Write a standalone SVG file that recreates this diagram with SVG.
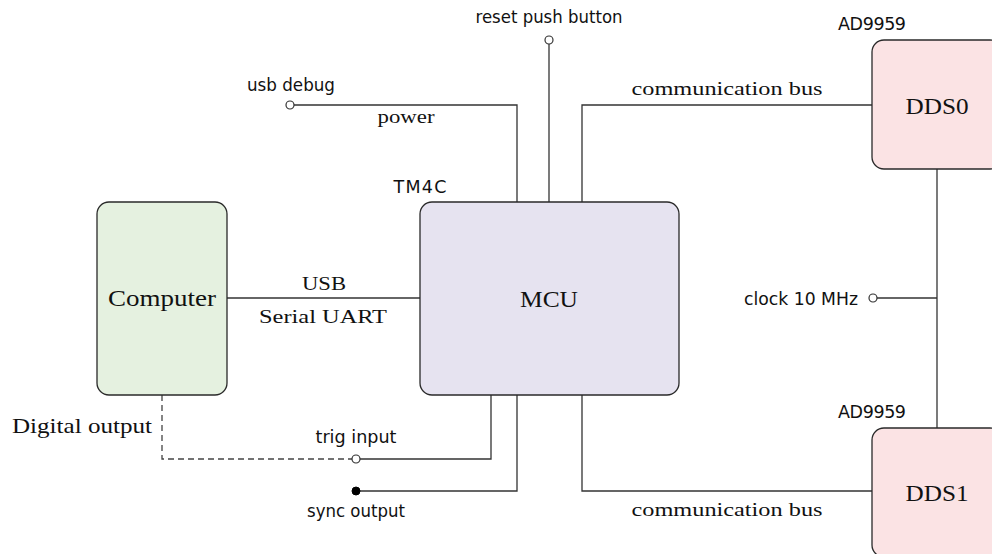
<svg xmlns="http://www.w3.org/2000/svg" width="992" height="554" viewBox="0 0 992 554">
<style>
.box{stroke:#2a2a2a;stroke-width:1.3}
.w{fill:none;stroke:#333;stroke-width:1.3}
.dash{fill:none;stroke:#444;stroke-width:1.3;stroke-dasharray:6 4}
.oc{fill:#fff;stroke:#333;stroke-width:1.2}
.fc{fill:#000;stroke:#000;stroke-width:1}
.s{font-family:"DejaVu Sans",sans-serif;font-size:17.5px;fill:#111}
.r{font-family:"Liberation Serif",serif;font-size:19.5px;fill:#111}
.R{font-family:"Liberation Serif",serif;font-size:24px;fill:#111}
</style>
<rect width="992" height="554" fill="#fff"/>
<g id="connectors">
  <polyline class="w" points="294,105 517,105 517,202"/>
  <line class="w" x1="549" y1="44" x2="549" y2="202"/>
  <polyline class="w" points="582,202 582,105 872,105"/>
  <line class="w" x1="227" y1="298" x2="420" y2="298"/>
  <line class="w" x1="937" y1="169" x2="937" y2="428"/>
  <line class="w" x1="877" y1="298" x2="937" y2="298"/>
  <polyline class="w" points="491,395 491,459 360,459"/>
  <polyline class="w" points="517,395 517,491 356,491"/>
  <polyline class="w" points="582,395 582,491 872,491"/>
  <polyline class="dash" points="162,395 162,459 352,459"/>
  <circle class="oc" cx="290" cy="105" r="4"/>
  <circle class="oc" cx="549" cy="40" r="4"/>
  <circle class="oc" cx="873" cy="298" r="4"/>
  <circle class="oc" cx="356" cy="459" r="4"/>
  <circle class="fc" cx="356" cy="491" r="4"/>
  <text class="s" x="549" y="23" text-anchor="middle" textLength="147" lengthAdjust="spacingAndGlyphs">reset push button</text>
  <text class="s" x="291" y="91" text-anchor="middle" textLength="88" lengthAdjust="spacingAndGlyphs">usb debug</text>
  <text class="r" x="406" y="123" text-anchor="middle" textLength="57" lengthAdjust="spacingAndGlyphs">power</text>
  <text class="r" x="727" y="95" text-anchor="middle" textLength="191" lengthAdjust="spacingAndGlyphs">communication bus</text>
  <text class="r" x="727" y="516" text-anchor="middle" textLength="191" lengthAdjust="spacingAndGlyphs">communication bus</text>
  <text class="r" x="324" y="290" text-anchor="middle" textLength="44" lengthAdjust="spacingAndGlyphs">USB</text>
  <text class="r" x="323" y="323" text-anchor="middle" textLength="128" lengthAdjust="spacingAndGlyphs">Serial UART</text>
  <text class="s" x="858" y="305" text-anchor="end" textLength="114" lengthAdjust="spacingAndGlyphs">clock 10 MHz</text>
  <text class="r" x="152" y="433" text-anchor="end" textLength="140" lengthAdjust="spacingAndGlyphs" style="font-size:21px">Digital output</text>
  <text class="s" x="356" y="443" text-anchor="middle" textLength="81" lengthAdjust="spacingAndGlyphs">trig input</text>
  <text class="s" x="356" y="517" text-anchor="middle" textLength="98" lengthAdjust="spacingAndGlyphs">sync output</text>
</g>
<g id="computer">
  <rect class="box" x="97" y="202" width="130" height="193" rx="12" fill="#e5f1e0"/>
  <text class="R" x="162" y="306" text-anchor="middle" textLength="108" lengthAdjust="spacingAndGlyphs">Computer</text>
</g>
<g id="mcu">
  <rect class="box" x="420" y="202" width="259" height="193" rx="12" fill="#e6e3f0"/>
  <text class="R" x="549" y="307" text-anchor="middle" textLength="58" lengthAdjust="spacingAndGlyphs">MCU</text>
  <text class="s" x="420" y="193" text-anchor="middle" textLength="53">TM4C</text>
</g>
<g id="dds0">
  <rect class="box" x="872" y="40" width="130" height="129" rx="12" fill="#fbe3e4"/>
  <text class="R" x="937" y="114" text-anchor="middle" textLength="63" lengthAdjust="spacingAndGlyphs">DDS0</text>
  <text class="s" x="872" y="30" text-anchor="middle" textLength="68">AD9959</text>
</g>
<g id="dds1">
  <rect class="box" x="872" y="428" width="130" height="129" rx="12" fill="#fbe3e4"/>
  <text class="R" x="937" y="501" text-anchor="middle" textLength="63" lengthAdjust="spacingAndGlyphs">DDS1</text>
  <text class="s" x="872" y="418" text-anchor="middle" textLength="68">AD9959</text>
</g>
</svg>
